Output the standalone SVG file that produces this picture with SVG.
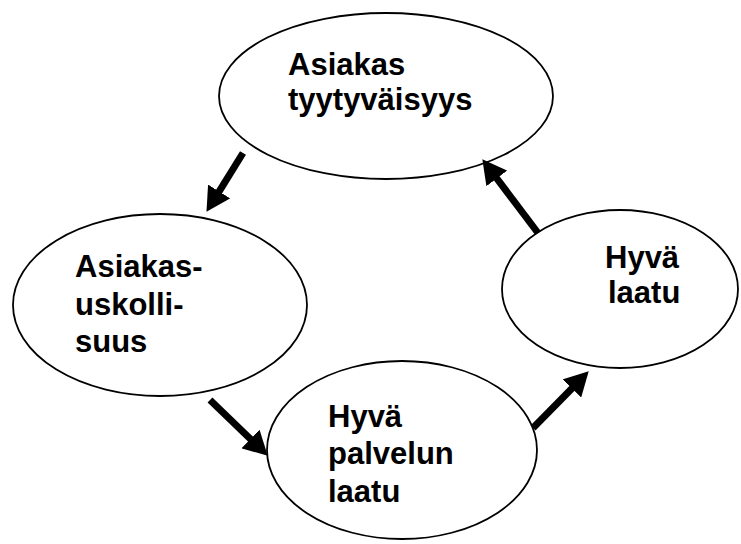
<svg xmlns="http://www.w3.org/2000/svg" width="741" height="544" viewBox="0 0 741 544">
  <style>
    .node ellipse { fill: #ffffff; stroke: #000000; stroke-width: 1.8; }
    .node text { font-family: "Liberation Sans", Arial, sans-serif; font-weight: bold; font-size: 31px; fill: #000000; }
    .arrow { stroke: #000000; stroke-width: 7; fill: none; marker-end: url(#head); }
  </style>
  <defs>
    <marker id="head" markerUnits="userSpaceOnUse" markerWidth="24" markerHeight="26" refX="1" refY="13" orient="auto" viewBox="0 0 24 26">
      <path d="M0,0 L24,13 L0,26 z" fill="#000000"/>
    </marker>
  </defs>
  <rect width="741" height="544" fill="#ffffff"/>

  <g id="asiakastyytyvaisyys" class="node">
    <ellipse cx="386" cy="96" rx="167" ry="83"/>
    <text x="288" y="75">Asiakas</text>
    <text x="288" y="110">tyytyväisyys</text>
  </g>

  <g id="asiakasuskollisuus" class="node">
    <ellipse cx="160" cy="305" rx="147" ry="91"/>
    <text x="75" y="277">Asiakas-</text>
    <text x="75" y="315">uskolli-</text>
    <text x="75" y="352">suus</text>
  </g>

  <g id="hyvapalvelunlaatu" class="node">
    <ellipse cx="402" cy="450" rx="135" ry="89"/>
    <text x="328" y="427">Hyvä</text>
    <text x="328" y="464">palvelun</text>
    <text x="328" y="502">laatu</text>
  </g>

  <g id="hyvalaatu" class="node">
    <ellipse cx="620" cy="289" rx="118" ry="79"/>
    <text x="605" y="268">Hyvä</text>
    <text x="608" y="303">laatu</text>
  </g>

  <g id="connectors">
    <line class="arrow" x1="243" y1="153" x2="218.6" y2="192.3"/>
    <line class="arrow" x1="210" y1="400" x2="251.2" y2="439.7"/>
    <line class="arrow" x1="533" y1="428" x2="572.6" y2="387.7"/>
    <line class="arrow" x1="538" y1="233" x2="496.2" y2="177.6"/>
  </g>
</svg>
